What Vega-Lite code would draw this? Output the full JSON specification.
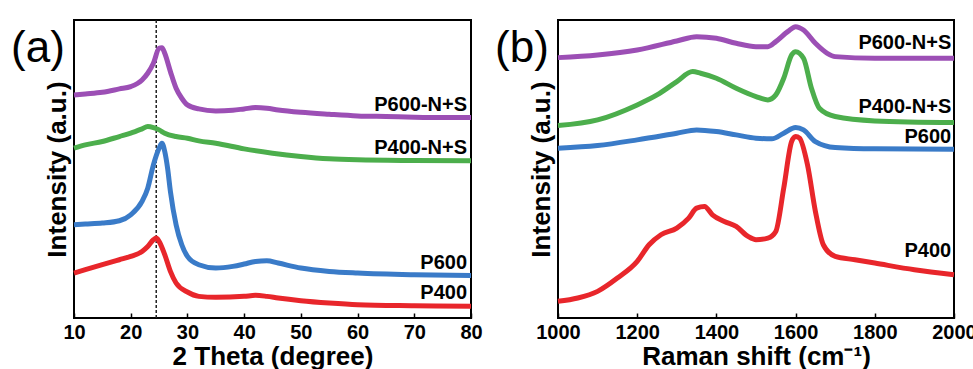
{
  "$schema": "https://vega.github.io/schema/vega-lite/v6.json",
  "background": "white",
  "padding": {"left": 10, "top": 15, "right": 0, "bottom": 0},
  "spacing": 10,
  "config": {
    "font": "Liberation Sans",
    "view": {"stroke": "black", "strokeWidth": 2},
    "axis": {"grid": false, "labelFont": "Liberation Sans", "titleFont": "Liberation Sans"}
  },
  "datasets": {
    "xrd": [
      {"s":"P600-N+S","x":10,"y":670},{"s":"P600-N+S","x":12,"y":673},{"s":"P600-N+S","x":15,"y":678},{"s":"P600-N+S","x":18,"y":688},{"s":"P600-N+S","x":20,"y":695},{"s":"P600-N+S","x":22,"y":715},{"s":"P600-N+S","x":23,"y":735},{"s":"P600-N+S","x":24,"y":765},{"s":"P600-N+S","x":25,"y":810},{"s":"P600-N+S","x":25.5,"y":812},{"s":"P600-N+S","x":26,"y":795},{"s":"P600-N+S","x":27,"y":740},{"s":"P600-N+S","x":28,"y":690},{"s":"P600-N+S","x":29,"y":660},{"s":"P600-N+S","x":30,"y":640},{"s":"P600-N+S","x":32,"y":628},{"s":"P600-N+S","x":35,"y":622},{"s":"P600-N+S","x":38,"y":624},{"s":"P600-N+S","x":40,"y":628},{"s":"P600-N+S","x":42,"y":632},{"s":"P600-N+S","x":44,"y":630},{"s":"P600-N+S","x":46,"y":625},{"s":"P600-N+S","x":50,"y":618},{"s":"P600-N+S","x":55,"y":612},{"s":"P600-N+S","x":60,"y":607},{"s":"P600-N+S","x":65,"y":605},{"s":"P600-N+S","x":70,"y":603},{"s":"P600-N+S","x":75,"y":602},{"s":"P600-N+S","x":80,"y":602},
      {"s":"P400-N+S","x":10,"y":510},{"s":"P400-N+S","x":12,"y":520},{"s":"P400-N+S","x":15,"y":530},{"s":"P400-N+S","x":18,"y":545},{"s":"P400-N+S","x":20,"y":555},{"s":"P400-N+S","x":22,"y":568},{"s":"P400-N+S","x":23,"y":575},{"s":"P400-N+S","x":24,"y":572},{"s":"P400-N+S","x":25,"y":565},{"s":"P400-N+S","x":26,"y":555},{"s":"P400-N+S","x":28,"y":545},{"s":"P400-N+S","x":30,"y":540},{"s":"P400-N+S","x":32,"y":532},{"s":"P400-N+S","x":35,"y":525},{"s":"P400-N+S","x":40,"y":508},{"s":"P400-N+S","x":45,"y":495},{"s":"P400-N+S","x":50,"y":485},{"s":"P400-N+S","x":55,"y":478},{"s":"P400-N+S","x":60,"y":475},{"s":"P400-N+S","x":70,"y":473},{"s":"P400-N+S","x":80,"y":472},
      {"s":"P600","x":10,"y":280},{"s":"P600","x":12,"y":282},{"s":"P600","x":15,"y":285},{"s":"P600","x":18,"y":292},{"s":"P600","x":20,"y":310},{"s":"P600","x":22,"y":350},{"s":"P600","x":23,"y":390},{"s":"P600","x":24,"y":460},{"s":"P600","x":25,"y":510},{"s":"P600","x":25.5,"y":525},{"s":"P600","x":26,"y":500},{"s":"P600","x":26.5,"y":450},{"s":"P600","x":27,"y":380},{"s":"P600","x":28,"y":280},{"s":"P600","x":29,"y":220},{"s":"P600","x":30,"y":185},{"s":"P600","x":32,"y":160},{"s":"P600","x":35,"y":150},{"s":"P600","x":38,"y":155},{"s":"P600","x":40,"y":162},{"s":"P600","x":42,"y":170},{"s":"P600","x":44,"y":172},{"s":"P600","x":46,"y":165},{"s":"P600","x":50,"y":150},{"s":"P600","x":55,"y":140},{"s":"P600","x":60,"y":135},{"s":"P600","x":70,"y":130},{"s":"P600","x":80,"y":128},
      {"s":"P400","x":10,"y":135},{"s":"P400","x":12,"y":145},{"s":"P400","x":15,"y":160},{"s":"P400","x":18,"y":175},{"s":"P400","x":20,"y":185},{"s":"P400","x":22,"y":200},{"s":"P400","x":23,"y":215},{"s":"P400","x":24,"y":235},{"s":"P400","x":24.5,"y":240},{"s":"P400","x":25,"y":230},{"s":"P400","x":26,"y":190},{"s":"P400","x":27,"y":140},{"s":"P400","x":28,"y":105},{"s":"P400","x":30,"y":78},{"s":"P400","x":32,"y":65},{"s":"P400","x":35,"y":62},{"s":"P400","x":40,"y":65},{"s":"P400","x":42,"y":68},{"s":"P400","x":44,"y":65},{"s":"P400","x":46,"y":60},{"s":"P400","x":50,"y":52},{"s":"P400","x":55,"y":45},{"s":"P400","x":60,"y":40},{"s":"P400","x":70,"y":37},{"s":"P400","x":80,"y":35}
    ],
    "raman": [
      {"s":"P600-N+S","x":1000,"y":782},{"s":"P600-N+S","x":1100,"y":790},{"s":"P600-N+S","x":1200,"y":805},{"s":"P600-N+S","x":1300,"y":832},{"s":"P600-N+S","x":1350,"y":845},{"s":"P600-N+S","x":1400,"y":840},{"s":"P600-N+S","x":1450,"y":825},{"s":"P600-N+S","x":1500,"y":815},{"s":"P600-N+S","x":1530,"y":815},{"s":"P600-N+S","x":1550,"y":830},{"s":"P600-N+S","x":1580,"y":860},{"s":"P600-N+S","x":1600,"y":875},{"s":"P600-N+S","x":1620,"y":865},{"s":"P600-N+S","x":1650,"y":825},{"s":"P600-N+S","x":1680,"y":795},{"s":"P600-N+S","x":1700,"y":785},{"s":"P600-N+S","x":1800,"y":780},{"s":"P600-N+S","x":2000,"y":780},
      {"s":"P400-N+S","x":1000,"y":578},{"s":"P400-N+S","x":1100,"y":595},{"s":"P400-N+S","x":1200,"y":640},{"s":"P400-N+S","x":1250,"y":670},{"s":"P400-N+S","x":1300,"y":710},{"s":"P400-N+S","x":1340,"y":740},{"s":"P400-N+S","x":1360,"y":735},{"s":"P400-N+S","x":1400,"y":720},{"s":"P400-N+S","x":1450,"y":690},{"s":"P400-N+S","x":1500,"y":665},{"s":"P400-N+S","x":1530,"y":655},{"s":"P400-N+S","x":1550,"y":670},{"s":"P400-N+S","x":1570,"y":720},{"s":"P400-N+S","x":1590,"y":790},{"s":"P400-N+S","x":1600,"y":800},{"s":"P400-N+S","x":1620,"y":780},{"s":"P400-N+S","x":1640,"y":690},{"s":"P400-N+S","x":1660,"y":630},{"s":"P400-N+S","x":1700,"y":605},{"s":"P400-N+S","x":1800,"y":592},{"s":"P400-N+S","x":2000,"y":587},
      {"s":"P600","x":1000,"y":510},{"s":"P600","x":1100,"y":518},{"s":"P600","x":1200,"y":535},{"s":"P600","x":1300,"y":555},{"s":"P600","x":1350,"y":565},{"s":"P600","x":1400,"y":560},{"s":"P600","x":1450,"y":550},{"s":"P600","x":1500,"y":540},{"s":"P600","x":1540,"y":538},{"s":"P600","x":1570,"y":555},{"s":"P600","x":1600,"y":572},{"s":"P600","x":1620,"y":565},{"s":"P600","x":1650,"y":530},{"s":"P600","x":1700,"y":512},{"s":"P600","x":1800,"y":508},{"s":"P600","x":2000,"y":507},
      {"s":"P400","x":1000,"y":50},{"s":"P400","x":1050,"y":60},{"s":"P400","x":1100,"y":80},{"s":"P400","x":1150,"y":120},{"s":"P400","x":1200,"y":170},{"s":"P400","x":1230,"y":220},{"s":"P400","x":1260,"y":250},{"s":"P400","x":1300,"y":270},{"s":"P400","x":1330,"y":300},{"s":"P400","x":1350,"y":330},{"s":"P400","x":1370,"y":335},{"s":"P400","x":1390,"y":310},{"s":"P400","x":1420,"y":290},{"s":"P400","x":1450,"y":275},{"s":"P400","x":1480,"y":245},{"s":"P400","x":1500,"y":235},{"s":"P400","x":1530,"y":240},{"s":"P400","x":1550,"y":260},{"s":"P400","x":1570,"y":390},{"s":"P400","x":1590,"y":530},{"s":"P400","x":1600,"y":545},{"s":"P400","x":1610,"y":540},{"s":"P400","x":1630,"y":460},{"s":"P400","x":1650,"y":320},{"s":"P400","x":1670,"y":220},{"s":"P400","x":1700,"y":185},{"s":"P400","x":1750,"y":175},{"s":"P400","x":1800,"y":165},{"s":"P400","x":1900,"y":145},{"s":"P400","x":2000,"y":130}
    ],
    "xrdLabels": [
      {"s":"P600-N+S","x":79.3,"y":640},{"s":"P400-N+S","x":79.3,"y":512},{"s":"P600","x":79.3,"y":165},{"s":"P400","x":79.3,"y":75}
    ],
    "ramanLabels": [
      {"s":"P600-N+S","x":1993,"y":825},{"s":"P400-N+S","x":1993,"y":635},{"s":"P600","x":1993,"y":545},{"s":"P400","x":1993,"y":200}
    ],
    "tagA": [{"t":"(a)","x":10,"y":895}],
    "tagB": [{"t":"(b)","x":1000,"y":895}],
    "guide": [{"x":24.5}]
  },
  "hconcat": [
    {
      "width": 397,
      "height": 298,
      "layer": [
        {
          "data": {"name": "guide"},
          "mark": {"type": "rule", "color": "#222222", "strokeWidth": 1.5, "strokeDash": [3, 2]},
          "encoding": {
            "x": {"field": "x", "type": "quantitative", "scale": {"domain": [10, 80], "nice": false}}
          }
        },
        {
          "data": {"name": "xrd"},
          "mark": {"type": "line", "strokeWidth": 5, "interpolate": "monotone"},
          "encoding": {
            "x": {"field": "x", "type": "quantitative", "scale": {"domain": [10, 80], "nice": false},
              "axis": {"values": [10,15,20,25,30,35,40,45,50,55,60,65,70,75,80], "labelExpr": "datum.value % 10 === 0 ? datum.label : ''", "tickSize": {"condition": {"test": "datum.value % 10 === 0", "value": -5}, "value": -3}, "tickColor": "black", "tickWidth": 1.5, "domain": false, "labelFontSize": 20, "labelFontWeight": "bold", "labelColor": "black", "labelPadding": 9, "labelFlush": false, "labelOverlap": false, "title": "2 Theta (degree)", "titleFontSize": 26, "titleFontWeight": "bold", "titleColor": "black", "titlePadding": 1}},
            "y": {"field": "y", "type": "quantitative", "scale": {"domain": [0, 895], "nice": false},
              "axis": {"labels": false, "ticks": false, "domain": false, "title": "Intensity (a.u.)", "titleFontSize": 26, "titleFontWeight": "bold", "titleColor": "black", "titlePadding": 4}},
            "color": {"field": "s", "type": "nominal", "legend": null,
              "scale": {"domain": ["P600-N+S", "P400-N+S", "P600", "P400"], "range": ["#9c4fb5", "#4cae4c", "#3a7bc8", "#e8262b"]}},
            "detail": {"field": "s"}
          }
        },
        {
          "data": {"name": "xrdLabels"},
          "mark": {"type": "text", "align": "right", "baseline": "middle", "fontSize": 20, "fontWeight": "bold", "color": "black"},
          "encoding": {
            "x": {"field": "x", "type": "quantitative"},
            "y": {"field": "y", "type": "quantitative"},
            "text": {"field": "s"}
          }
        },
        {
          "data": {"name": "tagA"},
          "mark": {"type": "text", "align": "center", "baseline": "middle", "fontSize": 44, "fontWeight": "normal", "color": "black", "dx": -36, "dy": 29, "clip": false},
          "encoding": {
            "x": {"field": "x", "type": "quantitative"},
            "y": {"field": "y", "type": "quantitative"},
            "text": {"field": "t"}
          }
        }
      ]
    },
    {
      "width": 396,
      "height": 298,
      "layer": [
        {
          "data": {"name": "raman"},
          "mark": {"type": "line", "strokeWidth": 5, "interpolate": "monotone"},
          "encoding": {
            "x": {"field": "x", "type": "quantitative", "scale": {"domain": [1000, 2000], "nice": false},
              "axis": {"values": [1000,1100,1200,1300,1400,1500,1600,1700,1800,1900,2000], "labelExpr": "datum.value % 200 === 0 ? datum.label : ''", "format": "d", "tickSize": {"condition": {"test": "datum.value % 200 === 0", "value": -5}, "value": -3}, "tickColor": "black", "tickWidth": 1.5, "domain": false, "labelFontSize": 20, "labelFontWeight": "bold", "labelColor": "black", "labelPadding": 9, "labelFlush": false, "labelOverlap": false, "title": "Raman shift (cm⁻¹)", "titleFontSize": 26, "titleFontWeight": "bold", "titleColor": "black", "titlePadding": 1}},
            "y": {"field": "y", "type": "quantitative", "scale": {"domain": [0, 895], "nice": false},
              "axis": {"labels": false, "ticks": false, "domain": false, "title": "Intensity (a.u.)", "titleFontSize": 26, "titleFontWeight": "bold", "titleColor": "black", "titlePadding": 4}},
            "color": {"field": "s", "type": "nominal", "legend": null,
              "scale": {"domain": ["P600-N+S", "P400-N+S", "P600", "P400"], "range": ["#9c4fb5", "#4cae4c", "#3a7bc8", "#e8262b"]}},
            "detail": {"field": "s"}
          }
        },
        {
          "data": {"name": "ramanLabels"},
          "mark": {"type": "text", "align": "right", "baseline": "middle", "fontSize": 20, "fontWeight": "bold", "color": "black"},
          "encoding": {
            "x": {"field": "x", "type": "quantitative"},
            "y": {"field": "y", "type": "quantitative"},
            "text": {"field": "s"}
          }
        },
        {
          "data": {"name": "tagB"},
          "mark": {"type": "text", "align": "center", "baseline": "middle", "fontSize": 44, "fontWeight": "normal", "color": "black", "dx": -36, "dy": 29, "clip": false},
          "encoding": {
            "x": {"field": "x", "type": "quantitative"},
            "y": {"field": "y", "type": "quantitative"},
            "text": {"field": "t"}
          }
        }
      ]
    }
  ]
}
